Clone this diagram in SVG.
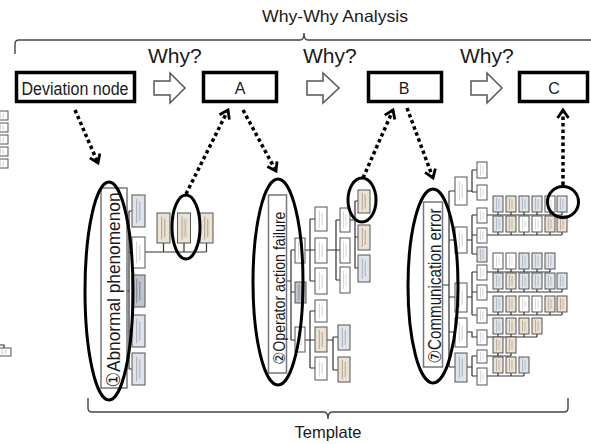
<svg xmlns="http://www.w3.org/2000/svg" width="591" height="444" viewBox="0 0 591 444">
  <defs>
    <style>
      .lbl { font-family: "Liberation Sans", "DejaVu Sans", sans-serif; fill: #1a1a1a; }
      .thick { fill: #fff; stroke: #000; stroke-width: 3.5; }
      .hollow { fill: #fff; stroke: #555; stroke-width: 1.5; }
      .brace { fill: none; stroke: #444; stroke-width: 1.4; }
      .ring { fill: none; stroke: #000; stroke-width: 3; }
      .tag { fill: #fff; stroke: #777; stroke-width: 1.5; }
      .wire { fill: none; stroke: #333; stroke-width: 1.2; }
      .bx { stroke: #555; stroke-width: 1; }
      .w { fill: url(#pw); }
      .g { fill: url(#pg); }
      .b { fill: url(#pb); }
      .d { fill: url(#pd); }
      .dot { fill: none; stroke: #000; stroke-width: 3.5; stroke-dasharray: 3.5 3; marker-end: url(#chev); }
    </style>
    <!-- tiny tree cards: tinted face with faint scribble bars -->
    <pattern id="pw" patternUnits="objectBoundingBox" patternContentUnits="objectBoundingBox" width="1" height="1">
      <rect width="1" height="1" fill="#ffffff"/>
      <rect x="0.32" y="0.15" width="0.08" height="0.7" fill="#cfcfcf"/>
      <rect x="0.56" y="0.25" width="0.08" height="0.5" fill="#cfcfcf"/>
    </pattern>
    <pattern id="pg" patternUnits="objectBoundingBox" patternContentUnits="objectBoundingBox" width="1" height="1">
      <rect width="1" height="1" fill="#dfe3ea"/>
      <rect x="0.32" y="0.12" width="0.08" height="0.76" fill="#a9afbb"/>
      <rect x="0.56" y="0.2" width="0.08" height="0.6" fill="#a9afbb"/>
    </pattern>
    <pattern id="pb" patternUnits="objectBoundingBox" patternContentUnits="objectBoundingBox" width="1" height="1">
      <rect width="1" height="1" fill="#ece2d3"/>
      <rect x="0.32" y="0.12" width="0.08" height="0.76" fill="#b0a28e"/>
      <rect x="0.56" y="0.2" width="0.08" height="0.6" fill="#b0a28e"/>
    </pattern>
    <pattern id="pd" patternUnits="objectBoundingBox" patternContentUnits="objectBoundingBox" width="1" height="1">
      <rect width="1" height="1" fill="#bfc4ce"/>
      <rect x="0.32" y="0.12" width="0.08" height="0.76" fill="#7d8592"/>
      <rect x="0.56" y="0.2" width="0.08" height="0.6" fill="#7d8592"/>
    </pattern>
    <marker id="chev" markerUnits="userSpaceOnUse" markerWidth="14" markerHeight="14" viewBox="0 0 14 14" refX="11" refY="7" orient="auto">
      <path d="M3,1.5 L11,7 L3,12.5" fill="none" stroke="#000" stroke-width="2.8" stroke-dasharray="none"/>
    </marker>
  </defs>

  <rect width="591" height="444" fill="#fff"/>

  <!-- top brace and heading -->
  <g id="heading">
    <path class="brace" d="M15,54 V44 Q15,40 19,40 H300 Q304,40 304,33 Q304,40 308,40 H592"/>
    <text class="lbl" x="335" y="22" font-size="16.5" text-anchor="middle" textLength="146" lengthAdjust="spacingAndGlyphs">Why-Why Analysis</text>
    <text class="lbl" x="148" y="63" font-size="21">Why?</text>
    <text class="lbl" x="303" y="63" font-size="21">Why?</text>
    <text class="lbl" x="460" y="63" font-size="21">Why?</text>
  </g>

  <!-- chain of answers -->
  <g id="deviation">
    <rect class="thick" x="16.5" y="72.5" width="118" height="29"/>
    <text class="lbl" x="75" y="94.5" font-size="17.5" text-anchor="middle" textLength="107" lengthAdjust="spacingAndGlyphs">Deviation node</text>
  </g>
  <g id="node-a">
    <rect class="thick" x="203.5" y="72.5" width="73" height="29"/>
    <text class="lbl" x="240" y="94" font-size="16" text-anchor="middle">A</text>
  </g>
  <g id="node-b">
    <rect class="thick" x="368.5" y="72.5" width="73" height="29"/>
    <text class="lbl" x="404" y="94" font-size="16" text-anchor="middle">B</text>
  </g>
  <g id="node-c">
    <rect class="thick" x="519.5" y="72.5" width="68" height="29"/>
    <text class="lbl" x="554" y="94" font-size="16" text-anchor="middle">C</text>
  </g>

  <!-- clipped neighbour tree at the left margin -->
  <g id="edge-tree">
    <rect class="bx w" x="-4" y="111" width="12" height="9"/>
    <rect class="bx w" x="-4" y="123" width="12" height="9"/>
    <rect class="bx w" x="-4" y="135" width="12" height="9"/>
    <rect class="bx w" x="-4" y="147" width="12" height="9"/>
    <rect class="bx w" x="-4" y="159" width="12" height="9"/>
    <path class="wire" d="M-1,345 H4 V348"/>
    <rect class="bx w" x="-3" y="348" width="14" height="8"/>
  </g>

  <!-- template 1 -->
  <g id="tree-1">
    <path class="wire" d="M118,291 H129 M129,211 V369 M129,211 H132 M129,252.5 H132 M129,331 H132 M129,369 H132 M145,252 H206.5 M163.5,243 V252 M184,243 V252 M206.5,243 V252"/>
    <rect class="bx g" x="132" y="195" width="13" height="32"/>
    <rect class="bx w" x="132" y="237" width="13" height="31"/>
    <rect class="bx d" x="132" y="275" width="13" height="32"/>
    <rect class="bx g" x="132" y="315" width="13" height="32"/>
    <rect class="bx g" x="132" y="353" width="13" height="32"/>
    <rect class="bx b" x="157" y="213" width="13" height="30"/>
    <rect class="bx b" x="177.5" y="213" width="13" height="30"/>
    <rect class="bx b" x="200" y="213" width="13" height="30"/>
    <rect class="tag" x="101" y="188" width="26" height="200"/>
    <text class="lbl" transform="translate(120,290) rotate(-90)" font-size="19" text-anchor="middle" textLength="195" lengthAdjust="spacingAndGlyphs">①Abnormal phenomenon</text>
    <ellipse class="ring" cx="109" cy="291" rx="24" ry="109"/>
    <ellipse class="ring" cx="186" cy="227" rx="14" ry="32"/>
  </g>

  <!-- template 2 -->
  <g id="tree-2">
    <path class="wire" d="M287,281 H291 M291,250 V340 M291,250 H295 M291,292 H295 M291,340 H295
      M305,250 H310 M310,219 V281 M310,219 H315 M310,250 H315 M310,281 H315
      M327,250 H340 M336,220 V280 M336,220 H340 M336,280 H340
      M350,220 H355 M355,201 V268 M355,201 H358 M355,237 H358 M355,268 H358
      M305,340 H315 M310,311 V368 M310,311 H315 M310,368 H315
      M327,340 H333 M333,337 V370 M333,337 H338 M333,370 H338"/>
    <rect class="bx w" x="295" y="238" width="10" height="25"/>
    <rect class="bx d" x="295" y="282" width="11" height="21"/>
    <rect class="bx w" x="295" y="327" width="10" height="25"/>
    <rect class="bx w" x="315" y="207" width="12" height="24"/>
    <rect class="bx w" x="315" y="238" width="12" height="25"/>
    <rect class="bx w" x="315" y="268" width="12" height="26"/>
    <rect class="bx w" x="340" y="208" width="10" height="24"/>
    <rect class="bx w" x="340" y="238" width="10" height="25"/>
    <rect class="bx w" x="340" y="267" width="10" height="26"/>
    <rect class="bx b" x="358" y="190" width="12" height="23"/>
    <rect class="bx b" x="358" y="225" width="12" height="25"/>
    <rect class="bx g" x="358" y="255" width="12" height="27"/>
    <rect class="bx w" x="315" y="300" width="12" height="22"/>
    <rect class="bx b" x="315" y="327" width="12" height="25"/>
    <rect class="bx w" x="315" y="357" width="12" height="23"/>
    <rect class="bx g" x="338" y="325" width="12" height="25"/>
    <rect class="bx b" x="338" y="357" width="12" height="25"/>
    <rect class="tag" x="268.5" y="195" width="18" height="178"/>
    <text class="lbl" transform="translate(285,288) rotate(-90)" font-size="16.5" text-anchor="middle" textLength="153" lengthAdjust="spacingAndGlyphs">②Operator action failure</text>
    <ellipse class="ring" cx="278" cy="282" rx="25" ry="103"/>
    <ellipse class="ring" cx="362" cy="200" rx="14" ry="22"/>
  </g>

  <!-- template 7 -->
  <g id="tree-3">
    <path class="wire" d="M443,285 H449 M449,191 V367 M449,191 H455 M449,240 H455 M449,297 H455 M449,332 H455 M449,367 H455
      M467,191 H472 M472,170 V192 M472,170 H477 M472,192 H477
      M467,240 H472 M472,215 V254 M472,215 H477 M472,235 H477 M472,254 H477
      M467,297 H472 M472,272 V315 M472,272 H477 M472,292 H477 M472,315 H477
      M467,332 H472 V337 H477
      M467,367 H472 M472,356 V376 M472,356 H477 M472,376 H477"/>
    <path class="wire" d="M487,215 H562 M498,212 V215 M511,212 V215 M524,212 V215 M537,212 V215 M550,212 V215 M562,212 V215
      M487,235 H562 M498,232 V235 M511,232 V235 M524,232 V235 M537,232 V235 M550,232 V235 M562,232 V235
      M487,272 H550 M498,269 V272 M511,269 V272 M524,269 V272 M537,269 V272 M550,269 V272
      M487,292 H562 M498,289 V292 M511,289 V292 M524,289 V292 M537,289 V292 M550,289 V292 M562,289 V292
      M487,315 H562 M498,312 V315 M511,312 V315 M524,312 V315 M537,312 V315 M550,312 V315 M562,312 V315
      M487,337 H537 M498,334 V337 M511,334 V337 M524,334 V337 M537,334 V337
      M487,356 H511 M498,353 V356 M511,353 V356
      M487,376 H524 M498,373 V376 M511,373 V376 M524,373 V376"/>
    <rect class="bx w" x="455" y="177" width="12" height="28"/>
    <rect class="bx w" x="455" y="227" width="12" height="26"/>
    <rect class="bx w" x="455" y="283" width="12" height="29"/>
    <rect class="bx w" x="455" y="318" width="12" height="29"/>
    <rect class="bx g" x="455" y="353" width="12" height="29"/>
    <rect class="bx w" x="477" y="162" width="10" height="16"/>
    <rect class="bx w" x="477" y="185" width="10" height="15"/>
    <rect class="bx w" x="477" y="208" width="10" height="15"/>
    <rect class="bx w" x="477" y="228" width="10" height="15"/>
    <rect class="bx g" x="477" y="247" width="10" height="15"/>
    <rect class="bx w" x="477" y="265" width="10" height="15"/>
    <rect class="bx w" x="477" y="285" width="10" height="15"/>
    <rect class="bx w" x="477" y="308" width="10" height="15"/>
    <rect class="bx w" x="477" y="330" width="10" height="15"/>
    <rect class="bx w" x="477" y="350" width="10" height="13"/>
    <rect class="bx w" x="477" y="368" width="10" height="17"/>
    <!-- leaf rows -->
    <rect class="bx g" x="493" y="196" width="10" height="16"/>
    <rect class="bx b" x="506" y="196" width="10" height="16"/>
    <rect class="bx g" x="519" y="196" width="10" height="16"/>
    <rect class="bx g" x="532" y="196" width="10" height="16"/>
    <rect class="bx w" x="545" y="196" width="10" height="16"/>
    <rect class="bx g" x="557" y="196" width="10" height="16"/>
    <rect class="bx g" x="493" y="216" width="10" height="16"/>
    <rect class="bx b" x="506" y="216" width="10" height="16"/>
    <rect class="bx w" x="519" y="216" width="10" height="16"/>
    <rect class="bx w" x="532" y="216" width="10" height="16"/>
    <rect class="bx b" x="545" y="216" width="10" height="16"/>
    <rect class="bx b" x="557" y="216" width="10" height="16"/>
    <rect class="bx w" x="493" y="253" width="10" height="16"/>
    <rect class="bx w" x="506" y="253" width="10" height="16"/>
    <rect class="bx g" x="519" y="253" width="10" height="16"/>
    <rect class="bx g" x="532" y="253" width="10" height="16"/>
    <rect class="bx g" x="545" y="253" width="10" height="16"/>
    <rect class="bx g" x="493" y="273" width="10" height="16"/>
    <rect class="bx b" x="506" y="273" width="10" height="16"/>
    <rect class="bx g" x="519" y="273" width="10" height="16"/>
    <rect class="bx g" x="532" y="273" width="10" height="16"/>
    <rect class="bx g" x="545" y="273" width="10" height="16"/>
    <rect class="bx g" x="557" y="273" width="10" height="16"/>
    <rect class="bx g" x="493" y="296" width="10" height="16"/>
    <rect class="bx b" x="506" y="296" width="10" height="16"/>
    <rect class="bx w" x="519" y="296" width="10" height="16"/>
    <rect class="bx w" x="532" y="296" width="10" height="16"/>
    <rect class="bx b" x="545" y="296" width="10" height="16"/>
    <rect class="bx b" x="557" y="296" width="10" height="16"/>
    <rect class="bx g" x="493" y="318" width="10" height="16"/>
    <rect class="bx b" x="506" y="318" width="10" height="16"/>
    <rect class="bx b" x="519" y="318" width="10" height="16"/>
    <rect class="bx b" x="532" y="318" width="10" height="16"/>
    <rect class="bx b" x="493" y="337" width="10" height="16"/>
    <rect class="bx b" x="506" y="337" width="10" height="16"/>
    <rect class="bx b" x="493" y="357" width="10" height="16"/>
    <rect class="bx b" x="506" y="357" width="10" height="16"/>
    <rect class="bx g" x="519" y="357" width="10" height="16"/>
    <rect class="tag" x="423.5" y="202" width="19" height="165"/>
    <text class="lbl" transform="translate(441,286) rotate(-90)" font-size="17.5" text-anchor="middle" textLength="155" lengthAdjust="spacingAndGlyphs">⑦Communication error</text>
    <ellipse class="ring" cx="433" cy="286" rx="25" ry="97"/>
    <circle class="ring" cx="563" cy="202" r="15.5"/>
  </g>

  <!-- bottom brace -->
  <g id="template">
    <path class="brace" d="M88,398 V408 Q88,412 92,412 H324 Q328,412 328,419 Q328,412 332,412 H564 Q568,412 568,408 V398"/>
    <text class="lbl" x="328" y="438" font-size="16.5" text-anchor="middle">Template</text>
  </g>

  <g id="connectors">
    <path class="hollow" d="M154,81 H170 V73 L185,88 L170,103 V95 H154 Z"/>
    <path class="hollow" d="M307,81 H323 V73 L339,88 L323,103 V95 H307 Z"/>
    <path class="hollow" d="M471,81 H487 V73 L502,88 L487,103 V95 H471 Z"/>
    <path class="dot" d="M75,110 L98,163"/>
    <path class="dot" d="M186,194 L228,110"/>
    <path class="dot" d="M243,110 L276,171"/>
    <path class="dot" d="M363,178 L393,110"/>
    <path class="dot" d="M407,108 L433,178"/>
    <path class="dot" d="M563,185 L563,110"/>
  </g>
</svg>
